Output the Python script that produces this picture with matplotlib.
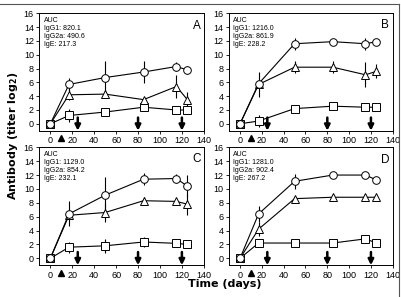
import numpy as np
import matplotlib.pyplot as plt
from matplotlib.lines import Line2D

plt.rcParams['font.family'] = ['Liberation Sans', 'DejaVu Sans']

# sampling days
days = [0, 17, 50, 85, 115, 125]

# panel A
a_igg1 = [0, 5.7, 6.7, 7.5, 8.3, 7.8]
a_igg1_err = [0, 1.0, 2.4, 1.6, 0.7, 0.6]
a_igg2a = [0, 4.2, 4.3, 3.5, 5.4, 3.5]
a_igg2a_err = [0, 0.8, 0.6, 0.3, 1.6, 1.1]
a_ige = [0, 1.2, 1.7, 2.4, 2.0, 2.0]
a_ige_err = [0, 1.0, 0.3, 0.4, 0.1, 0.2]

# panel B
b_igg1 = [0, 5.8, 11.6, 11.9, 11.6, 11.9]
b_igg1_err = [0, 0.5, 0.9, 0.2, 0.9, 0.2]
b_igg2a = [0, 5.7, 8.2, 8.2, 7.1, 7.6]
b_igg2a_err = [0, 1.8, 0.9, 0.9, 1.8, 1.0]
b_ige = [0, 0.4, 2.2, 2.55, 2.4, 2.4]
b_ige_err = [0, 0.9, 0.2, 0.4, 0.4, 0.4]

# panel C
c_igg1 = [0, 6.4, 9.1, 11.4, 11.5, 10.4]
c_igg1_err = [0, 1.8, 2.6, 0.9, 0.6, 1.6]
c_igg2a = [0, 6.2, 6.6, 8.3, 8.2, 7.8]
c_igg2a_err = [0, 0.6, 1.4, 0.5, 0.4, 1.5]
c_ige = [0, 1.6, 1.8, 2.35, 2.15, 2.0]
c_ige_err = [0, 0.8, 1.0, 0.7, 0.2, 0.1]

# panel D
d_igg1 = [0, 6.4, 11.1, 12.0, 12.0, 11.3]
d_igg1_err = [0, 1.1, 1.1, 0.2, 0.1, 0.3]
d_igg2a = [0, 4.2, 8.6, 8.8, 8.8, 8.8]
d_igg2a_err = [0, 1.0, 0.3, 0.2, 0.5, 0.2]
d_ige = [0, 2.2, 2.2, 2.2, 2.8, 2.2]
d_ige_err = [0, 0.2, 0.1, 0.1, 0.2, 0.2]

panel_letters = ['A', 'B', 'C', 'D']
auc_igg1 = ['820.1', '1216.0', '1129.0', '1281.0']
auc_igg2a = ['490.6', '861.9', '854.2', '902.4']
auc_ige = ['217.3', '228.2', '232.1', '267.2']

boost_days = [25, 80, 120]
prime_day = 10

panels = [
    (a_igg1, a_igg1_err, a_igg2a, a_igg2a_err, a_ige, a_ige_err),
    (b_igg1, b_igg1_err, b_igg2a, b_igg2a_err, b_ige, b_ige_err),
    (c_igg1, c_igg1_err, c_igg2a, c_igg2a_err, c_ige, c_ige_err),
    (d_igg1, d_igg1_err, d_igg2a, d_igg2a_err, d_ige, d_ige_err),
]

# axes boxes in figure fraction
boxes = [
    (0.098, 0.560, 0.409, 0.395),
    (0.570, 0.560, 0.407, 0.395),
    (0.098, 0.107, 0.409, 0.397),
    (0.570, 0.107, 0.407, 0.397),
]
letter_y = [0.89, 0.90, 0.905, 0.89]

fig = plt.figure(figsize=(4.02, 2.97), dpi=100)

for i, (g1, g1e, g2, g2e, ge, gee) in enumerate(panels):
    ax = fig.add_axes(boxes[i])
    for y, err, mk in [(ge, gee, 's'), (g2, g2e, '^'), (g1, g1e, 'o')]:
        ax.errorbar(days, y, yerr=err, fmt='-', color='k', lw=0.8,
                    elinewidth=0.8, capsize=0, marker=mk, markersize=5.5,
                    markerfacecolor='white', markeredgecolor='k',
                    markeredgewidth=0.7)
    # booster arrows
    for d in boost_days:
        ax.annotate('', xy=(d, -1), xytext=(d, 0.9),
                    arrowprops=dict(arrowstyle='-|>', color='k', lw=1.8,
                                    mutation_scale=8, shrinkA=0, shrinkB=0))
    ax.plot([prime_day], [-2.05], marker='^', color='k', markersize=4.5,
            clip_on=False)
    ax.set_xlim(-10, 140)
    ax.set_ylim(-1, 16)
    ax.set_xticks(np.arange(0, 141, 20))
    ax.set_yticks(np.arange(0, 17, 2))
    ax.tick_params(labelsize=6.5, length=2.5, width=0.6, pad=1.5)
    for s in ax.spines.values():
        s.set_linewidth(0.7)
    ax.text(0.025, 0.97, 'AUC\nIgG1: %s\nIgG2a: %s\nIgE: %s'
            % (auc_igg1[i], auc_igg2a[i], auc_ige[i]),
            transform=ax.transAxes, fontsize=5, va='top', ha='left',
            linespacing=1.2)
    ax.text(0.955, letter_y[i], panel_letters[i], transform=ax.transAxes,
            fontsize=8.5, ha='center', va='center')

fig.text(0.033, 0.542, 'Antibody (titer log$_{\\mathbf{2}}$)', rotation=90,
         fontsize=8, fontweight='bold', ha='center', va='center',
         family='DejaVu Sans')
fig.text(0.56, 0.044, 'Time (days)', fontsize=8, fontweight='bold',
         ha='center', va='center', family='DejaVu Sans')

# outer frame (top and right)
fig.add_artist(Line2D([0, 0.993], [0.986, 0.986], color='#555555', lw=0.8))
fig.add_artist(Line2D([0.993, 0.993], [0, 0.986], color='#555555', lw=0.8))

fig.savefig('out.png', dpi=100)
